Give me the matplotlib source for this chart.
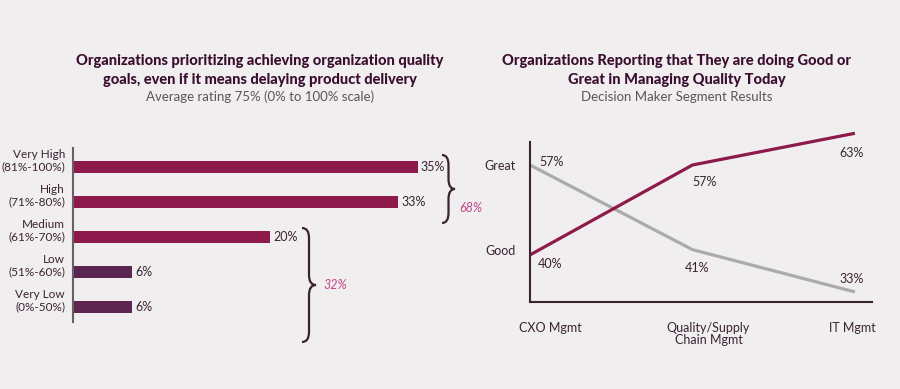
import matplotlib.pyplot as plt
from matplotlib.path import Path
from matplotlib.patches import PathPatch

plt.rcParams["font.family"] = ["Lato", "DejaVu Sans"]

# --- data ---
levels = ["Very High\n(81%-100%)", "High\n(71%-80%)", "Medium\n(61%-70%)",
          "Low\n(51%-60%)", "Very Low\n(0%-50%)"]
shares = [35, 33, 20, 6, 6]
top_group = "68%"
low_group = "32%"

segments = ["CXO Mgmt", "Quality/Supply\nChain Mgmt", "IT Mgmt"]
great = [40, 57, 63]
good = [57, 41, 33]

BG = "#F0EEEE"
CRIMSON = "#8E1A4C"
PLUM = "#5C2650"
GREY = "#ABABAB"
INK = "#3A2433"
TITLE = "#3B0E30"
PINK = "#C2468A"

W, H = 900, 389
fig = plt.figure(figsize=(W / 100, H / 100), dpi=100, facecolor=BG)


def box(x0, y0, x1, y1):
    # pixel box (top-left origin) -> figure fraction rect
    return [x0 / W, 1 - y1 / H, (x1 - x0) / W, (y1 - y0) / H]


def brace(x0, ytop, ybot, w, color=INK):
    # curly brace in pixel coords, tip pointing right
    ym = (ytop + ybot) / 2
    r = min(10, (ybot - ytop) / 4)
    xm = x0 + w / 2
    pts = [(x0, ytop), (xm, ytop), (xm, ytop + r),
           (xm, ym - r), (xm, ym), (x0 + w, ym),
           (xm, ym), (xm, ym + r),
           (xm, ybot - r), (xm, ybot), (x0, ybot)]
    codes = [Path.MOVETO, Path.CURVE3, Path.CURVE3,
             Path.LINETO, Path.CURVE3, Path.CURVE3,
             Path.CURVE3, Path.CURVE3,
             Path.LINETO, Path.CURVE3, Path.CURVE3]
    pts = [(x / W, 1 - y / H) for x, y in pts]
    fig.add_artist(PathPatch(Path(pts, codes), transform=fig.transFigure,
                             fill=False, edgecolor=color, linewidth=1.6))


# ---------------- titles ----------------
fig.text(260 / W, 1 - 61 / H, "Organizations prioritizing achieving organization quality",
         ha="center", va="center", fontsize=10.5, fontweight="black", color=TITLE)
fig.text(260 / W, 1 - 80 / H, "goals, even if it means delaying product delivery",
         ha="center", va="center", fontsize=10.5, fontweight="black", color=TITLE)
fig.text(260 / W, 1 - 97 / H, "Average rating 75% (0% to 100% scale)",
         ha="center", va="center", fontsize=9.5, color="#5A5557")

fig.text(677 / W, 1 - 61 / H, "Organizations Reporting that They are doing Good or",
         ha="center", va="center", fontsize=10.5, fontweight="black", color=TITLE)
fig.text(677 / W, 1 - 80 / H, "Great in Managing Quality Today",
         ha="center", va="center", fontsize=10.5, fontweight="black", color=TITLE)
fig.text(677 / W, 1 - 97 / H, "Decision Maker Segment Results",
         ha="center", va="center", fontsize=9.5, color="#5A5557")

# ---------------- BAR CHART ----------------
ax1 = fig.add_axes(box(73, 148, 467, 322))
ax1.set_facecolor("none")
ypos = list(range(len(levels)))
colors = [CRIMSON if v > 10 else PLUM for v in shares]
ax1.barh(ypos, shares, height=0.36, color=colors)
ax1.set_xlim(0, 40)
ax1.set_ylim(len(levels) - 0.57, -0.54)
for y, v in zip(ypos, shares):
    ax1.annotate(f"{v}%", (v, y), xytext=(3, 0), textcoords="offset pixels",
                 ha="left", va="center", fontsize=9, color=INK)
    ax1.annotate(levels[y], (0, y), xytext=(-8, 6), textcoords="offset pixels",
                 ha="right", va="center", fontsize=8.5, color=INK, linespacing=1.1)
for s in ["top", "right", "bottom"]:
    ax1.spines[s].set_visible(False)
ax1.spines["left"].set_color("#6B5F66")
ax1.spines["left"].set_linewidth(1.5)
ax1.set_xticks([])
ax1.set_yticks([])

brace(442, 155, 223, 13)
fig.text(459 / W, 1 - 208 / H, top_group, ha="left", va="center",
         fontsize=9, style="italic", color=PINK)
brace(302, 228, 342, 14)
fig.text(323 / W, 1 - 285 / H, low_group, ha="left", va="center",
         fontsize=9, style="italic", color=PINK)

# ---------------- LINE CHART ----------------
ax2 = fig.add_axes(box(530, 117.4, 872, 302))
ax2.set_facecolor("none")
xs = list(range(len(segments)))
ax2.plot(xs, good, color=GREY, linewidth=2.3, solid_capstyle="butt", clip_on=False)
ax2.plot(xs, great, color=CRIMSON, linewidth=2.3, solid_capstyle="butt", clip_on=False)
ax2.set_xlim(0, 2.105)
ax2.set_ylim(31.1, 66)

offsets_great = [(20, -9), (12, -17), (-3, -20)]
offsets_good = [(22, 3), (5, -18), (-3, 13)]
for x, v, off in zip(xs, great, offsets_great):
    ax2.annotate(f"{v}%", (x, v), xytext=off, textcoords="offset pixels",
                 ha="center", va="center", fontsize=9, color=INK)
for x, v, off in zip(xs, good, offsets_good):
    ax2.annotate(f"{v}%", (x, v), xytext=off, textcoords="offset pixels",
                 ha="center", va="center", fontsize=9, color=INK)

label_dx = [20, 16, -3]
for x, name, dx in zip(xs, segments, label_dx):
    ax2.annotate(name, (x, 31.1), xytext=(dx, -20), textcoords="offset pixels",
                 ha="center", va="top", fontsize=9, color=INK, linespacing=1.05)

ax2.set_xticks([])
ax2.set_yticks([41, 57], ["Good", "Great"])
ax2.tick_params(axis="y", length=0, pad=10, labelsize=9, labelcolor=INK)
for s in ["top", "right"]:
    ax2.spines[s].set_visible(False)
for s in ["left", "bottom"]:
    ax2.spines[s].set_color(INK)
    ax2.spines[s].set_linewidth(1.5)
ax2.spines["left"].set_bounds(31.1, 61.3)

fig.savefig("out.png", dpi=100, facecolor=BG)
